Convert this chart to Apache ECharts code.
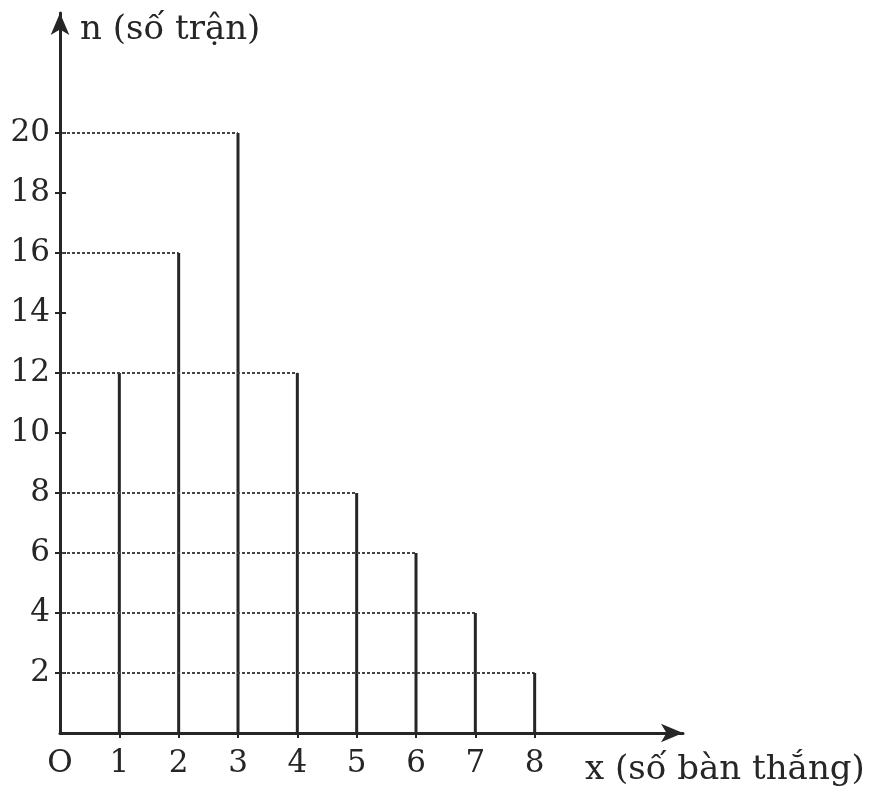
<!DOCTYPE html>
<html><head><meta charset="utf-8">
<script src="https://cdn.jsdelivr.net/npm/echarts@6/dist/echarts.min.js"></script>
<style>html,body{margin:0;padding:0;background:#fff}#c{width:873px;height:795px}</style>
</head><body><div id="c"></div>
<script>
const goals = [1, 2, 3, 4, 5, 6, 7, 8];
const matches = [12, 16, 20, 12, 8, 6, 4, 2];
const yTicks = [2, 4, 6, 8, 10, 12, 14, 16, 18, 20];
const xTicks = [0, 1, 2, 3, 4, 5, 6, 7, 8];
const xName = 'x (số bàn thắng)';
const yName = 'n (số trận)';

const ink = '#262626';
const font = 'DejaVu Serif';
const data = goals.map((g, i) => [g, matches[i]]);

const chart = echarts.init(document.getElementById('c'));
chart.setOption({
  backgroundColor: '#fff',
  animation: false,
  grid: { left: 60, right: 190, top: 13, bottom: 62, outerBoundsMode: 'none', containLabel: false },
  xAxis: {
    type: 'value', min: 0, max: 10.5, interval: 1,
    name: xName, nameLocation: 'end', nameGap: -98,
    nameTextStyle: { fontFamily: font, fontSize: 34, color: ink, align: 'left', verticalAlign: 'top', padding: [20, 0, 0, 0] },
    axisLine: { show: true, symbol: ['none', 'arrow'], symbolSize: [14, 22], lineStyle: { color: ink, width: 3 } },
    axisTick: { show: true, length: 5, customValues: goals, lineStyle: { color: ink, width: 2 } },
    axisLabel: { customValues: xTicks, margin: 15, fontFamily: font, fontSize: 31, color: ink,
      formatter: v => v === 0 ? 'O' : String(v) },
    splitLine: { show: false }
  },
  yAxis: [{
    type: 'value', min: 0, max: 24, interval: 2,
    name: yName, nameLocation: 'end', nameGap: -17,
    nameTextStyle: { fontFamily: font, fontSize: 34, color: ink, align: 'left', verticalAlign: 'middle', padding: [0, 0, 0, 20] },
    axisLine: { show: true, symbol: ['none', 'arrow'], symbolSize: [14, 22], lineStyle: { color: ink, width: 3 } },
    axisTick: { show: true, length: 5, customValues: yTicks, lineStyle: { color: ink, width: 2 } },
    axisLabel: { customValues: yTicks, margin: 10, fontFamily: font, fontSize: 31, color: ink },
    splitLine: { show: false }
  }, {
    type: 'value', min: 0, max: 24, interval: 2, position: 'left',
    axisLine: { show: false },
    axisTick: { show: true, inside: true, length: 6, customValues: yTicks, lineStyle: { color: ink, width: 2 } },
    axisLabel: { show: false },
    splitLine: { show: false }
  }],
  series: [{
    type: 'custom',
    data: data,
    encode: { x: 0, y: 1 },
    renderItem: (params, api) => {
      const x = api.value(0), y = api.value(1);
      const top = api.coord([x, y]);
      const base = api.coord([x, 0]);
      const left = api.coord([0, y]);
      return {
        type: 'group',
        children: [
          { type: 'line', shape: { x1: left[0] + 2, y1: left[1], x2: top[0], y2: top[1] },
            style: { stroke: '#444', lineWidth: 2, lineDash: [3, 2] } },
          { type: 'line', shape: { x1: base[0], y1: base[1], x2: top[0], y2: top[1] },
            style: { stroke: ink, lineWidth: 3 } }
        ]
      };
    }
  }]
});
</script></body></html>
